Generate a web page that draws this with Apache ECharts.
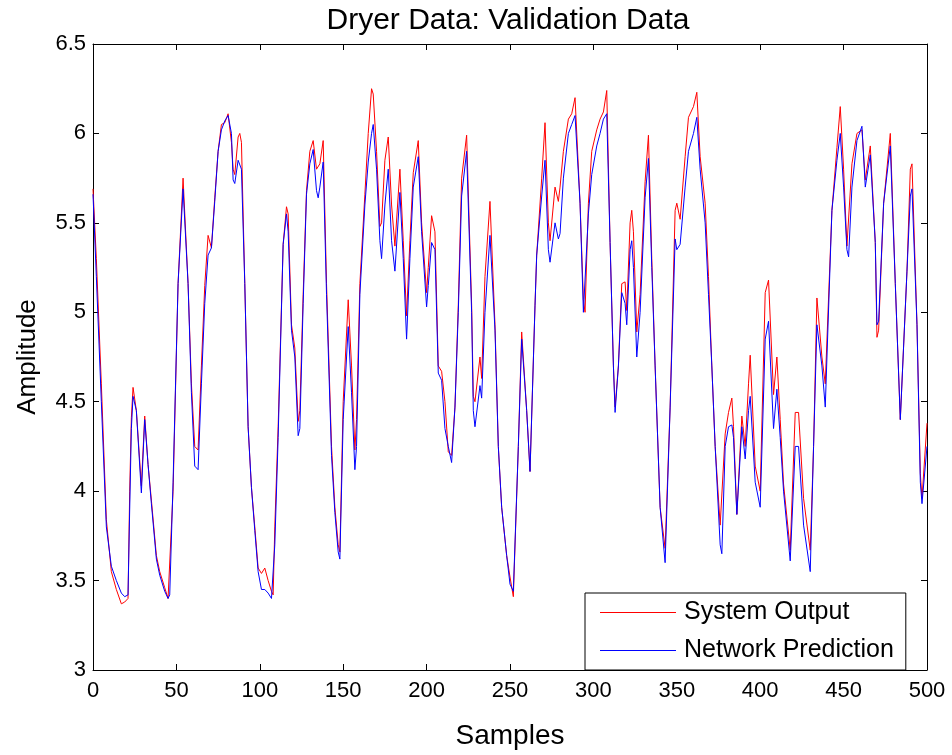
<!DOCTYPE html>
<html>
<head>
<meta charset="utf-8">
<script src="https://cdn.jsdelivr.net/npm/echarts@6/dist/echarts.min.js"></script>
<style>
  html, body { margin: 0; padding: 0; background: #fff; }
  #chart { width: 952px; height: 755px; }
</style>
</head>
<body>
<div id="chart"></div>
<script>
// sample index
const samples = [
  0, 2, 5, 8, 11, 14, 17, 19, 21, 22, 23, 24, 26, 29, 31, 33, 35, 38, 40, 43,
  45, 46, 48, 51, 54, 57, 59, 61, 63, 65, 67, 69, 71, 73, 75, 77, 79, 81, 83, 84,
  85, 87, 88, 89, 91, 93, 95, 97, 99, 101, 103, 105, 107, 108, 109, 111, 114, 116, 117, 119,
  121, 123, 124, 126, 128, 130, 132, 134, 135, 136, 138, 140, 143, 145, 147, 148, 150, 153, 155, 157,
  158, 160, 163, 165, 167, 168, 170, 172, 173, 175, 177, 179, 181, 184, 186, 188, 190, 192, 195, 197,
  200, 201, 203, 205, 207, 209, 211, 213, 215, 217, 219, 221, 224, 227, 228, 229, 232, 233, 235, 238,
  241, 243, 245, 248, 250, 252, 253, 255, 257, 260, 262, 265, 266, 269, 271, 273, 274, 277, 279, 280,
  282, 285, 287, 289, 292, 294, 295, 297, 299, 302, 304, 306, 308, 310, 312, 313, 315, 317, 319, 320,
  322, 323, 324, 326, 328, 331, 333, 335, 337, 340, 343, 346, 349, 350, 352, 355, 357, 360, 362, 364,
  367, 369, 371, 373, 376, 377, 379, 381, 383, 384, 386, 389, 391, 393, 394, 397, 400, 403, 405, 408,
  410, 412, 414, 418, 421, 423, 426, 430, 432, 434, 437, 439, 443, 446, 448, 450, 452, 453, 455, 458,
  461, 463, 466, 469, 470, 471, 474, 478, 481, 484, 488, 490, 491, 494, 496, 497, 500
];

const systemOutput = [
  5.69, 5.30, 4.60, 3.84, 3.55, 3.45, 3.37, 3.38, 3.40, 4.00, 4.41, 4.58, 4.45, 4.03, 4.42, 4.15, 3.95, 3.64, 3.55, 3.46,
  3.40, 3.39, 4.00, 5.16, 5.75, 5.16, 4.60, 4.25, 4.23, 4.70, 5.15, 5.43, 5.36, 5.64, 5.90, 6.05, 6.06, 6.11, 5.95, 5.80,
  5.77, 5.98, 6.00, 5.95, 5.16, 4.36, 4.02, 3.80, 3.57, 3.54, 3.57, 3.50, 3.44, 3.42, 3.80, 4.36, 5.38, 5.59, 5.55, 4.93,
  4.80, 4.39, 4.45, 5.10, 5.68, 5.90, 5.96, 5.80, 5.80, 5.83, 5.96, 5.16, 4.25, 3.91, 3.70, 3.66, 4.50, 5.07, 4.70, 4.23,
  4.40, 5.16, 5.66, 6.00, 6.25, 6.22, 5.90, 5.48, 5.50, 5.85, 5.98, 5.60, 5.37, 5.80, 5.40, 4.98, 5.40, 5.78, 5.96, 5.50,
  5.11, 5.25, 5.54, 5.45, 4.70, 4.67, 4.50, 4.22, 4.20, 4.47, 5.04, 5.75, 5.99, 5.04, 4.53, 4.50, 4.75, 4.63, 5.20, 5.62,
  4.93, 4.25, 3.91, 3.64, 3.52, 3.41, 3.40, 4.25, 4.89, 4.45, 4.11, 5.04, 5.32, 5.75, 6.06, 5.50, 5.40, 5.70, 5.62, 5.70,
  5.90, 6.08, 6.11, 6.20, 5.61, 5.07, 5.00, 5.61, 5.90, 6.02, 6.08, 6.12, 6.24, 5.39, 4.70, 4.47, 4.70, 5.16, 5.17, 5.01,
  5.50, 5.57, 5.45, 4.89, 5.10, 5.73, 5.99, 5.30, 4.70, 3.91, 3.68, 4.47, 5.57, 5.61, 5.52, 5.87, 6.09, 6.15, 6.23, 5.87,
  5.61, 5.20, 4.70, 4.25, 3.81, 3.80, 4.32, 4.44, 4.52, 4.36, 3.87, 4.42, 4.25, 4.60, 4.76, 4.14, 4.00, 5.11, 5.18, 4.54,
  4.75, 4.40, 4.04, 3.67, 4.44, 4.44, 3.96, 3.67, 4.25, 5.08, 4.75, 4.60, 5.57, 5.92, 6.15, 5.80, 5.37, 5.37, 5.83, 6.00,
  6.02, 5.74, 5.93, 5.39, 4.86, 4.90, 5.61, 6.00, 5.16, 4.40, 5.23, 5.80, 5.83, 4.93, 4.10, 3.96, 4.38
];

const networkPrediction = [
  5.66, 5.20, 4.50, 3.80, 3.58, 3.50, 3.43, 3.41, 3.42, 3.90, 4.35, 4.53, 4.45, 3.99, 4.40, 4.15, 3.93, 3.62, 3.53, 3.44,
  3.40, 3.42, 4.05, 5.16, 5.69, 5.16, 4.55, 4.14, 4.12, 4.60, 5.05, 5.32, 5.36, 5.62, 5.90, 6.02, 6.07, 6.10, 6.00, 5.74,
  5.72, 5.85, 5.86, 5.80, 5.16, 4.36, 4.02, 3.78, 3.55, 3.45, 3.45, 3.43, 3.40, 3.39, 3.70, 4.30, 5.38, 5.55, 5.45, 4.90,
  4.75, 4.31, 4.35, 5.05, 5.66, 5.83, 5.91, 5.68, 5.64, 5.70, 5.84, 5.10, 4.20, 3.88, 3.66, 3.62, 4.40, 4.92, 4.55, 4.12,
  4.25, 5.10, 5.60, 5.84, 6.00, 6.05, 5.80, 5.40, 5.30, 5.60, 5.80, 5.40, 5.23, 5.67, 5.30, 4.85, 5.30, 5.70, 5.87, 5.45,
  5.03, 5.15, 5.39, 5.35, 4.66, 4.62, 4.35, 4.25, 4.16, 4.47, 5.00, 5.65, 5.90, 5.00, 4.45, 4.36, 4.59, 4.52, 5.00, 5.43,
  4.90, 4.25, 3.91, 3.64, 3.48, 3.44, 3.45, 4.25, 4.85, 4.45, 4.11, 5.04, 5.32, 5.65, 5.85, 5.35, 5.28, 5.50, 5.41, 5.44,
  5.75, 6.00, 6.05, 6.10, 5.61, 5.00, 4.99, 5.55, 5.77, 5.93, 6.00, 6.08, 6.11, 5.39, 4.70, 4.44, 4.70, 5.11, 5.05, 4.93,
  5.35, 5.40, 5.25, 4.75, 5.00, 5.64, 5.86, 5.25, 4.70, 3.91, 3.60, 4.47, 5.41, 5.35, 5.38, 5.70, 5.90, 6.00, 6.09, 5.80,
  5.50, 5.10, 4.70, 4.25, 3.70, 3.65, 4.25, 4.36, 4.37, 4.30, 3.87, 4.36, 4.18, 4.45, 4.53, 4.05, 3.91, 4.85, 4.95, 4.35,
  4.57, 4.30, 4.00, 3.61, 4.25, 4.25, 3.81, 3.55, 4.25, 4.93, 4.70, 4.47, 5.57, 5.85, 6.00, 5.70, 5.35, 5.31, 5.70, 5.96,
  6.04, 5.70, 5.88, 5.39, 4.93, 4.95, 5.61, 5.93, 5.16, 4.40, 5.23, 5.65, 5.69, 4.93, 4.05, 3.93, 4.25
];

const xTicks = [0, 50, 100, 150, 200, 250, 300, 350, 400, 450, 500];
const yTicks = [3, 3.5, 4, 4.5, 5, 5.5, 6, 6.5];

const chart = echarts.init(document.getElementById('chart'));

const font = 'Liberation Sans, Arial, sans-serif';
const boxAxisX = (pos, showLabel) => ({
  type: 'value',
  position: pos,
  min: xTicks[0],
  max: xTicks[xTicks.length - 1],
  interval: 50,
  axisLine: { show: true, onZero: false, lineStyle: { color: '#000', width: 1 } },
  axisTick: { show: true, inside: true, length: 6, lineStyle: { color: '#000' } },
  axisLabel: { show: showLabel, color: '#000', fontSize: 22, fontFamily: font, margin: 10 },
  splitLine: { show: false }
});
const boxAxisY = (pos, showLabel) => ({
  type: 'value',
  position: pos,
  min: yTicks[0],
  max: yTicks[yTicks.length - 1],
  interval: 0.5,
  axisLine: { show: true, onZero: false, lineStyle: { color: '#000', width: 1 } },
  axisTick: { show: true, inside: true, length: 6, lineStyle: { color: '#000' } },
  axisLabel: { show: showLabel, color: '#000', fontSize: 22, fontFamily: font, margin: 7 },
  splitLine: { show: false }
});

const xBottom = boxAxisX('bottom', true);
xBottom.name = 'Samples';
xBottom.nameLocation = 'middle';
xBottom.nameGap = 52;
xBottom.nameTextStyle = { color: '#000', fontSize: 28, fontFamily: font };

const yLeft = boxAxisY('left', true);
yLeft.name = 'Amplitude';
yLeft.nameLocation = 'middle';
yLeft.nameGap = 52;
yLeft.nameTextStyle = { color: '#000', fontSize: 26, fontFamily: font };

const option = {
  backgroundColor: '#fff',
  animation: false,
  title: {
    text: 'Dryer Data: Validation Data',
    left: 503,
    top: 1,
    textAlign: 'center',
    textStyle: { color: '#000', fontSize: 30, fontWeight: 'normal', fontFamily: font }
  },
  grid: { left: 93, top: 44, right: 25, bottom: 71 },
  xAxis: [xBottom, boxAxisX('top', false)],
  yAxis: [yLeft, boxAxisY('right', false)],
  legend: {
    orient: 'vertical',
    left: 585,
    top: 593,
    icon: 'rect',
    itemWidth: 76,
    itemHeight: 1,
    itemGap: 13,
    padding: [7, 12, 7, 15],
    borderColor: '#000',
    borderWidth: 1,
    backgroundColor: '#fff',
    textStyle: { color: '#000', fontSize: 25, fontFamily: font, padding: [0, 0, 0, 3] },
    data: ['System Output', 'Network Prediction']
  },
  series: [
    {
      name: 'System Output',
      type: 'line',
      symbol: 'none',
      data: samples.map((s, i) => [s, systemOutput[i]]),
      lineStyle: { color: '#ff0000', width: 1 },
      itemStyle: { color: '#ff0000' }
    },
    {
      name: 'Network Prediction',
      type: 'line',
      symbol: 'none',
      data: samples.map((s, i) => [s, networkPrediction[i]]),
      lineStyle: { color: '#0000ff', width: 1 },
      itemStyle: { color: '#0000ff' }
    }
  ]
};

chart.setOption(option);
</script>
</body>
</html>
